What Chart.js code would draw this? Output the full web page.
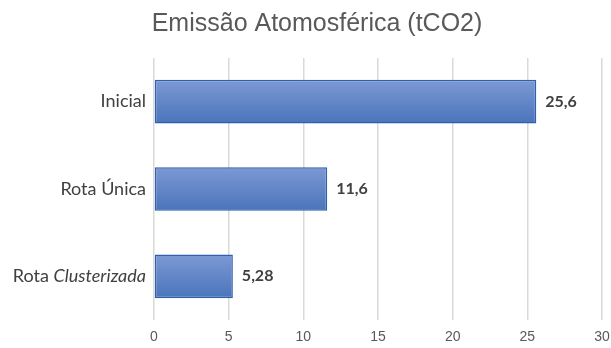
<!DOCTYPE html>
<html><head><meta charset="utf-8">
<script src="https://cdn.jsdelivr.net/npm/chart.js@4"></script>
<style>html,body{margin:0;padding:0;background:#fff}#wrap{width:611px;height:348px}</style>
</head><body><div id="wrap"><canvas id="c" width="611" height="348"></canvas></div>
<script>
const categories = ["Inicial", "Rota Única", "Rota Clusterizada"];
// label parts: [text, italic]
const categoryParts = [[["Inicial", false]], [["Rota Única", false]], [["Rota ", false], ["Clusterizada", true]]];
const values = [25.6, 11.6, 5.28];
const valueLabels = ["25,6", "11,6", "5,28"];
const xTicks = [0, 5, 10, 15, 20, 25, 30];
const titleText = "Emissão Atomosférica (tCO2)";

const LABEL_FONT = "Lato";
const labelPlugin = {
  id: 'customLabels',
  afterDraw(chart) {
    const ctx = chart.ctx, ys = chart.scales.y;
    ctx.save();
    ctx.textBaseline = 'middle';
    ctx.fillStyle = '#404040';
    categoryParts.forEach((parts, i) => {
      const y = ys.getPixelForValue(i);
      let total = 0;
      const fonts = parts.map(p => (p[1] ? 'italic ' : '') + '18px ' + LABEL_FONT);
      parts.forEach((p, k) => { ctx.font = fonts[k]; total += ctx.measureText(p[0]).width; });
      let x = chart.chartArea.left - 8 - total;
      ctx.textAlign = 'left';
      parts.forEach((p, k) => { ctx.font = fonts[k]; ctx.fillText(p[0], x, y); x += ctx.measureText(p[0]).width; });
    });
    const meta = chart.getDatasetMeta(0);
    ctx.font = 'bold 16px ' + LABEL_FONT;
    meta.data.forEach((el, i) => {
      ctx.fillText(valueLabels[i], el.x + 9, el.y);
    });
    ctx.restore();
  }
};

function barGradient(context) {
  const chart = context.chart;
  const ys = chart.scales.y;
  if (!ys || !chart.chartArea || context.dataIndex === undefined) return '#5f82c5';
  const c = ys.getPixelForValue(context.dataIndex);
  const half = (ys.height / categories.length) * 0.25;
  const g = chart.ctx.createLinearGradient(0, c - half, 0, c + half);
  g.addColorStop(0, '#7d99d4');
  g.addColorStop(1, '#4a74bb');
  return g;
}

new Chart(document.getElementById('c'), {
  type: 'bar',
  data: {
    labels: categories,
    datasets: [{
      data: values,
      backgroundColor: barGradient,
      borderColor: '#2f60ab',
      borderWidth: 1.5,
      borderSkipped: false,
      categoryPercentage: 1,
      barPercentage: 0.5
    }]
  },
  options: {
    indexAxis: 'y',
    responsive: false,
    animation: false,
    layout: { padding: { left: 23, right: 0, top: 0, bottom: 0 } },
    plugins: {
      legend: { display: false },
      tooltip: { enabled: false },
      title: {
        display: true, text: titleText,
        color: '#595959',
        font: { family: 'Liberation Sans', size: 25, weight: 'normal' },
        padding: { top: 9, bottom: 19 }
      }
    },
    scales: {
      x: {
        min: 0, max: 30,
        afterBuildTicks(s) { s.ticks = xTicks.map(v => ({ value: v })); },
        grid: { color: '#d9d9d9', lineWidth: 1.5, drawTicks: false },
        border: { display: false },
        ticks: { color: '#595959', font: { family: 'Liberation Sans', size: 14 }, padding: 9 },
        afterFit(s) { s.height = 28; s.paddingRight = 9; s.paddingLeft = 0; }
      },
      y: {
        grid: { display: false },
        border: { display: false },
        ticks: { display: false },
        afterFit(s) { s.width = 131; }
      }
    }
  },
  plugins: [labelPlugin]
});
</script></body></html>
